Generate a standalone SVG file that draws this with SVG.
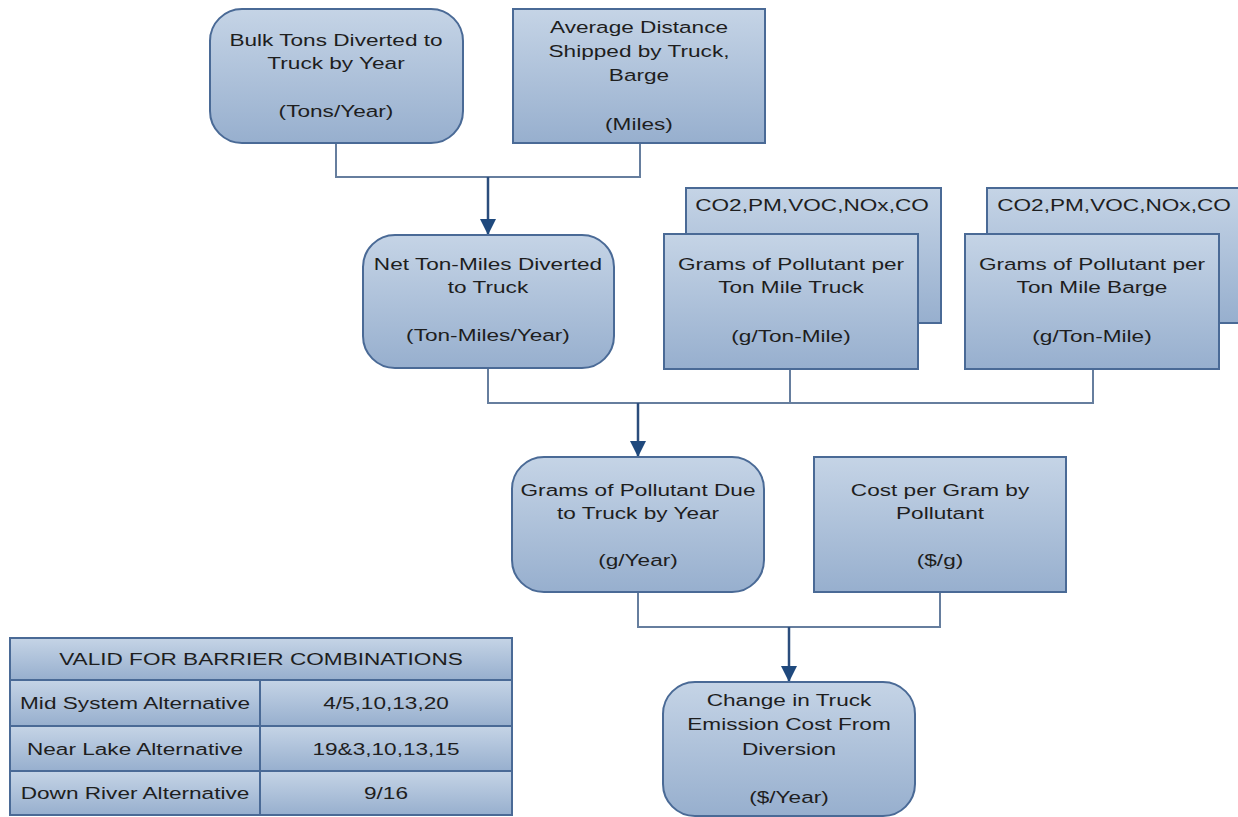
<svg xmlns="http://www.w3.org/2000/svg" width="1238" height="817" viewBox="0 0 1238 817">
<defs>
<linearGradient id="g" x1="0" y1="0" x2="0" y2="1">
<stop offset="0" stop-color="#c5d4e6"/>
<stop offset="1" stop-color="#97afce"/>
</linearGradient>
<marker id="arr2" viewBox="0 0 16 16" refX="16" refY="8" markerWidth="16" markerHeight="16" markerUnits="userSpaceOnUse" orient="auto">
<path d="M0,0 L16,8 L0,16 z" fill="#1f497d"/>
</marker>
</defs>
<style>
.n{fill:url(#g);stroke:#4a6a96;stroke-width:2}
.t{font-family:"Liberation Sans",Arial,sans-serif;font-size:17px;fill:#1e1e1e;text-anchor:middle}
.c{fill:none;stroke:#667e9e;stroke-width:2}
.a{fill:none;stroke:#2b4d7c;stroke-width:2.5}
</style>
<rect width="1238" height="817" fill="#fff"/>
<g id="connectors">
<path class="c" d="M336,143 V177 H640 V143"/>
<path class="a" d="M488,177 V235" marker-end="url(#arr2)"/>
<path class="c" d="M488,368 V403 H1093 V369 M790,369 V403"/>
<path class="a" d="M638,403 V457" marker-end="url(#arr2)"/>
<path class="c" d="M638,592 V627 H940 V592"/>
<path class="a" d="M789,627 V682" marker-end="url(#arr2)"/>
</g>
<g id="bulk-tons">
<rect class="n" x="210" y="9" width="253" height="134" rx="32"/>
<g class="t" transform="translate(336,0) scale(1.33,1)">
<text x="0" y="46">Bulk Tons Diverted to</text>
<text x="0" y="69">Truck by Year</text>
<text x="0" y="117">(Tons/Year)</text>
</g>
</g>
<g id="avg-distance">
<rect class="n" x="513" y="9" width="252" height="134"/>
<g class="t" transform="translate(639,0) scale(1.33,1)">
<text x="0" y="33">Average Distance</text>
<text x="0" y="57">Shipped by Truck,</text>
<text x="0" y="81">Barge</text>
<text x="0" y="130">(Miles)</text>
</g>
</g>
<g id="net-ton-miles">
<rect class="n" x="363" y="235" width="251" height="133" rx="32"/>
<g class="t" transform="translate(488,0) scale(1.33,1)">
<text x="0" y="270">Net Ton-Miles Diverted</text>
<text x="0" y="293">to Truck</text>
<text x="0" y="341">(Ton-Miles/Year)</text>
</g>
</g>
<g id="grams-truck">
<rect class="n" x="686" y="188" width="255" height="135"/>
<g class="t" transform="translate(812,0) scale(1.33,1)">
<text x="0" y="211">CO2,PM,VOC,NOx,CO</text>
</g>
<rect class="n" x="664" y="234" width="254" height="135"/>
<g class="t" transform="translate(791,0) scale(1.33,1)">
<text x="0" y="270">Grams of Pollutant per</text>
<text x="0" y="293">Ton Mile Truck</text>
<text x="0" y="342">(g/Ton-Mile)</text>
</g>
</g>
<g id="grams-barge">
<rect class="n" x="987" y="188" width="260" height="135"/>
<g class="t" transform="translate(1114,0) scale(1.33,1)">
<text x="0" y="211">CO2,PM,VOC,NOx,CO</text>
</g>
<rect class="n" x="965" y="234" width="254" height="135"/>
<g class="t" transform="translate(1092,0) scale(1.33,1)">
<text x="0" y="270">Grams of Pollutant per</text>
<text x="0" y="293">Ton Mile Barge</text>
<text x="0" y="342">(g/Ton-Mile)</text>
</g>
</g>
<g id="grams-due">
<rect class="n" x="512" y="457" width="252" height="135" rx="32"/>
<g class="t" transform="translate(638,0) scale(1.33,1)">
<text x="0" y="496">Grams of Pollutant Due</text>
<text x="0" y="519">to Truck by Year</text>
<text x="0" y="566">(g/Year)</text>
</g>
</g>
<g id="cost-per-gram">
<rect class="n" x="814" y="457" width="252" height="135"/>
<g class="t" transform="translate(940,0) scale(1.33,1)">
<text x="0" y="496">Cost per Gram by</text>
<text x="0" y="519">Pollutant</text>
<text x="0" y="566">($/g)</text>
</g>
</g>
<g id="change-cost">
<rect class="n" x="663" y="682" width="252" height="134" rx="32"/>
<g class="t" transform="translate(789,0) scale(1.33,1)">
<text x="0" y="706">Change in Truck</text>
<text x="0" y="730">Emission Cost From</text>
<text x="0" y="755">Diversion</text>
<text x="0" y="803">($/Year)</text>
</g>
</g>
<g id="table">
<rect class="n" x="10" y="638" width="502" height="42"/>
<rect class="n" x="10" y="680" width="250" height="46"/>
<rect class="n" x="260" y="680" width="252" height="46"/>
<rect class="n" x="10" y="726" width="250" height="45"/>
<rect class="n" x="260" y="726" width="252" height="45"/>
<rect class="n" x="10" y="771" width="250" height="44"/>
<rect class="n" x="260" y="771" width="252" height="44"/>
<g class="t" transform="translate(261,0) scale(1.33,1)">
<text x="0" y="665">VALID FOR BARRIER COMBINATIONS</text>
</g>
<g class="t" transform="translate(135,0) scale(1.33,1)">
<text x="0" y="709">Mid System Alternative</text>
<text x="0" y="755">Near Lake Alternative</text>
<text x="0" y="799">Down River Alternative</text>
</g>
<g class="t" transform="translate(386,0) scale(1.33,1)">
<text x="0" y="709">4/5,10,13,20</text>
<text x="0" y="755">19&amp;3,10,13,15</text>
<text x="0" y="799">9/16</text>
</g>
</g>
</svg>
